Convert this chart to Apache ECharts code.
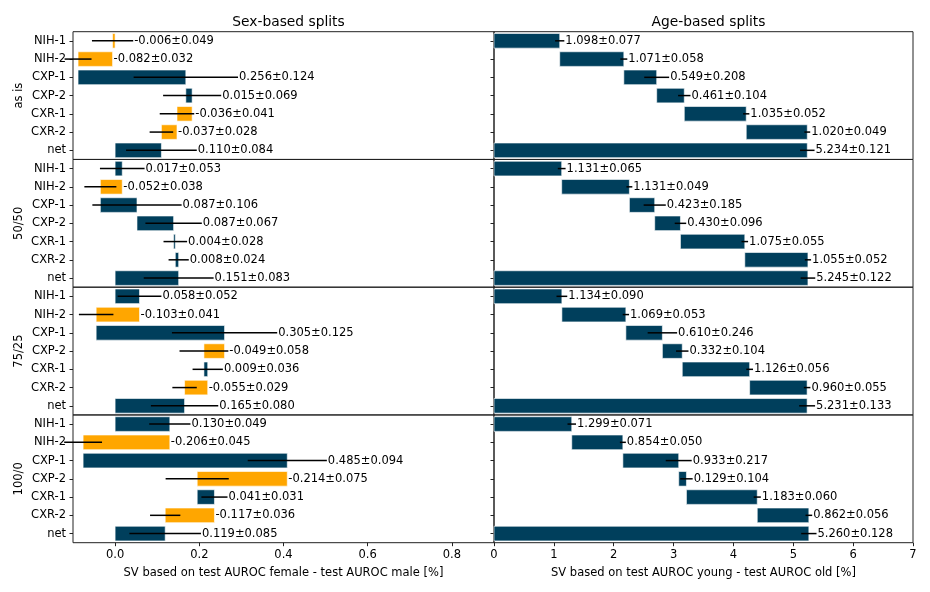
<!DOCTYPE html>
<html>
<head>
<meta charset="utf-8">
<script src="https://cdn.jsdelivr.net/npm/echarts@6/dist/echarts.min.js"></script>
<style>
html,body{margin:0;padding:0;background:#fff;}
#chart{width:930px;height:592px;}
</style>
</head>
<body>
<div id="chart"></div>
<script>
const categories = ['NIH-1', 'NIH-2', 'CXP-1', 'CXP-2', 'CXR-1', 'CXR-2', 'net'];
const splits = ['as is', '50/50', '75/25', '100/0'];
const panelTitles = ['Sex-based splits', 'Age-based splits'];
const axisNames = ['SV based on test AUROC female - test AUROC male [%]', 'SV based on test AUROC young - test AUROC old [%]'];
const sexTicks = [0.0, 0.2, 0.4, 0.6, 0.8];
const ageTicks = [0, 1, 2, 3, 4, 5, 6, 7];

const sexValues = [
  [-0.006, -0.082, 0.256, 0.015, -0.036, -0.037, 0.110],
  [0.017, -0.052, 0.087, 0.087, 0.004, 0.008, 0.151],
  [0.058, -0.103, 0.305, -0.049, 0.009, -0.055, 0.165],
  [0.130, -0.206, 0.485, -0.214, 0.041, -0.117, 0.119]
];
const sexErrors = [
  [0.049, 0.032, 0.124, 0.069, 0.041, 0.028, 0.084],
  [0.053, 0.038, 0.106, 0.067, 0.028, 0.024, 0.083],
  [0.052, 0.041, 0.125, 0.058, 0.036, 0.029, 0.080],
  [0.049, 0.045, 0.094, 0.075, 0.031, 0.036, 0.085]
];
const ageValues = [
  [1.098, 1.071, 0.549, 0.461, 1.035, 1.020, 5.234],
  [1.131, 1.131, 0.423, 0.430, 1.075, 1.055, 5.245],
  [1.134, 1.069, 0.610, 0.332, 1.126, 0.960, 5.231],
  [1.299, 0.854, 0.933, 0.129, 1.183, 0.862, 5.260]
];
const ageErrors = [
  [0.077, 0.058, 0.208, 0.104, 0.052, 0.049, 0.121],
  [0.065, 0.049, 0.185, 0.096, 0.055, 0.052, 0.122],
  [0.090, 0.053, 0.246, 0.104, 0.056, 0.055, 0.133],
  [0.071, 0.050, 0.217, 0.104, 0.060, 0.056, 0.128]
];

const POS = '#003f5c', NEG = '#ffa600';
const FONT = 'DejaVu Sans';
const FS = 11.5;
const TXT = '#000';

function buildData(vals, errs) {
  const out = [];
  let cum = 0;
  vals.forEach((v, i) => {
    let s, e;
    if (i === vals.length - 1) { s = 0; e = v; }
    else { s = cum; e = cum + v; cum = e; }
    out.push([i, s, e, v, errs[i]]);
  });
  return out;
}

function renderItem(params, api) {
  const yi = api.value(0), s = api.value(1), e = api.value(2), v = api.value(3), err = api.value(4);
  const p0 = api.coord([s, yi]), p1 = api.coord([e, yi]);
  const band = api.size([0, 1])[1];
  const h = band * 0.8;
  const x0 = Math.min(p0[0], p1[0]), x1 = Math.max(p0[0], p1[0]);
  const cy = p0[1];
  const eL = api.coord([e - err, yi])[0], eR = api.coord([e + err, yi])[0];
  const tx = Math.max(x1, eR) + 1;
  return {
    type: 'group',
    children: [
      { type: 'rect', shape: { x: x0, y: cy - h / 2, width: Math.max(x1 - x0, 0.5), height: h },
        style: { fill: v < 0 ? NEG : POS, stroke: 'rgba(255,255,255,0.75)', lineWidth: 0.8 } },
      { type: 'line', shape: { x1: eL, y1: cy, x2: eR, y2: cy },
        style: { stroke: '#000', lineWidth: 1.5 } },
      { type: 'text', x: tx, y: cy,
        style: { text: v.toFixed(3) + '\u00b1' + err.toFixed(3), fill: TXT, font: FS + 'px "' + FONT + '"',
                 align: 'left', verticalAlign: 'middle' } }
    ]
  };
}

const tops = [31.7, 159.45, 287.2, 414.95];
const H = 127.75;
const panels = [
  { left: 73, width: 421, vals: sexValues, errs: sexErrors, min: -0.1, max: 0.9, ticks: sexTicks, fmt: v => v.toFixed(1) },
  { left: 494, width: 419, vals: ageValues, errs: ageErrors, min: 0, max: 7, ticks: ageTicks, fmt: v => String(v) }
];

const grid = [], xAxis = [], yAxis = [], series = [];
panels.forEach((p, pi) => {
  splits.forEach((sp, ri) => {
    const idx = grid.length;
    const bottom = ri === splits.length - 1;
    grid.push({ left: p.left, top: tops[ri], width: p.width, height: H, show: true,
      borderColor: '#222', borderWidth: 1, backgroundColor: 'transparent', containLabel: false, outerBoundsMode: 'none' });
    xAxis.push({
      type: 'value', gridIndex: idx, min: p.min, max: p.max, position: 'bottom',
      splitLine: { show: false },
      axisLine: { show: false, onZero: false },
      axisTick: { show: bottom, length: 3.5, lineStyle: { color: '#222' }, customValues: p.ticks },
      axisLabel: { show: bottom, margin: 6, fontFamily: FONT, fontSize: FS, color: TXT, customValues: p.ticks,
        formatter: v => p.fmt(v) },
      name: bottom ? axisNames[pi] : '', nameLocation: 'middle', nameGap: 24,
      nameTextStyle: { fontFamily: FONT, fontSize: FS, color: TXT }
    });
    yAxis.push({
      type: 'category', gridIndex: idx, data: categories, inverse: true, position: 'left',
      axisLine: { show: false, onZero: false },
      axisTick: { show: true, alignWithLabel: true, length: 3.5, lineStyle: { color: '#222' } },
      axisLabel: { show: pi === 0, margin: 7, fontFamily: FONT, fontSize: FS, color: TXT },
      splitLine: { show: false },
      name: pi === 0 ? sp : '', nameLocation: 'middle', nameRotate: 90, nameGap: 48,
      nameTextStyle: { fontFamily: FONT, fontSize: FS, color: TXT }
    });
    series.push({
      type: 'custom', xAxisIndex: idx, yAxisIndex: idx, clip: false,
      renderItem: renderItem, encode: { x: [1, 2], y: 0 },
      data: buildData(p.vals[ri], p.errs[ri]), silent: true
    });
  });
});

const chart = echarts.init(document.getElementById('chart'), null, { renderer: 'canvas' });
chart.setOption({
  animation: false,
  backgroundColor: '#fff',
  title: panelTitles.map((t, i) => ({
    text: t, left: panels[i].left + panels[i].width / 2, top: 10, textAlign: 'center',
    textStyle: { fontFamily: FONT, fontSize: 13.8, fontWeight: 'normal', color: TXT }
  })),
  grid, xAxis, yAxis, series
});
</script>
</body>
</html>
